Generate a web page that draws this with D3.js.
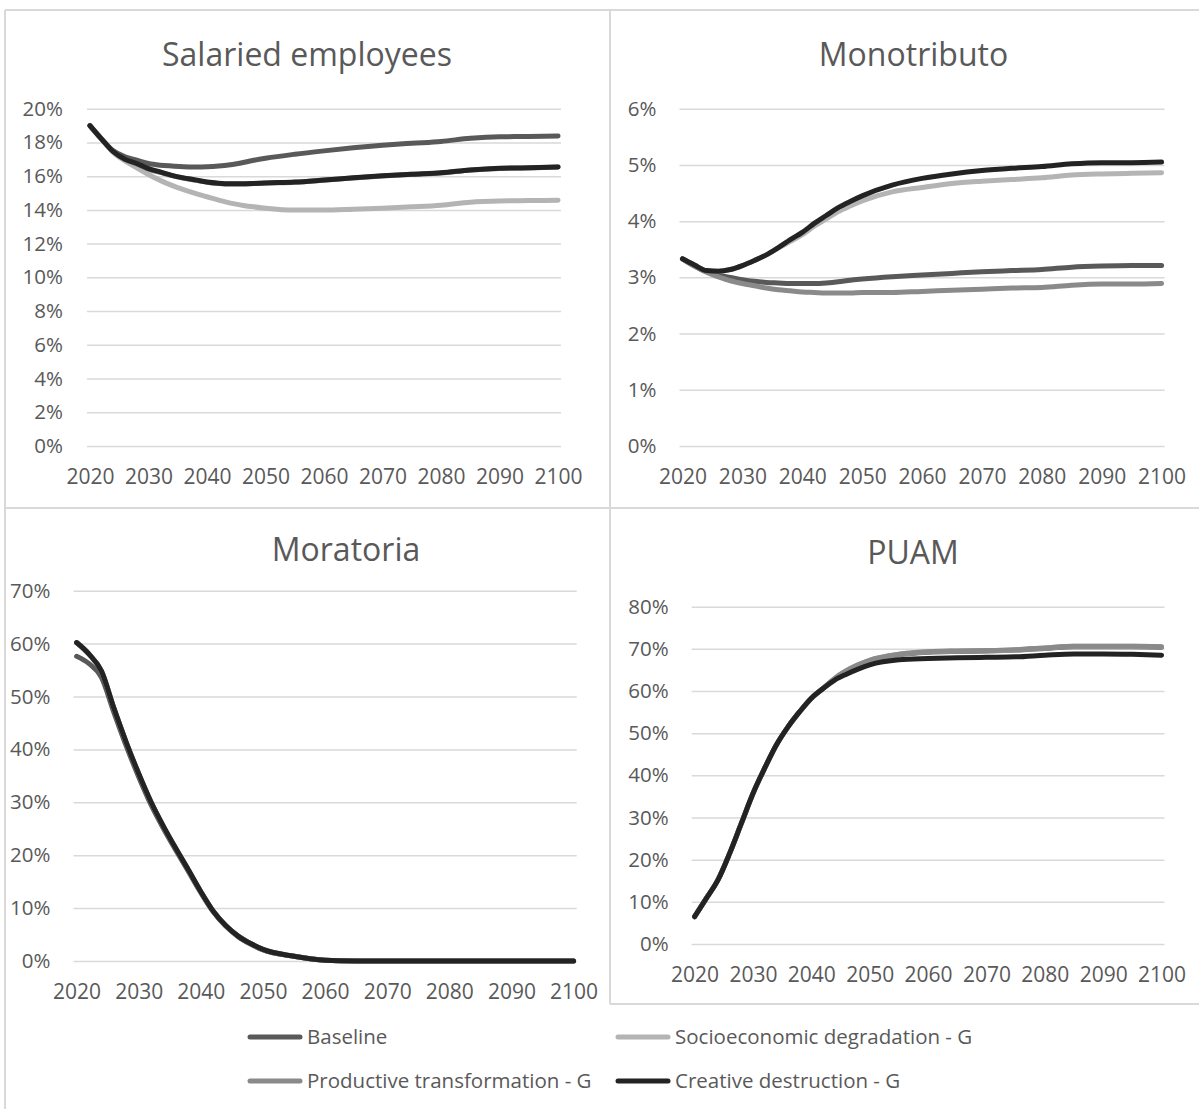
<!DOCTYPE html>
<html>

<head>
    <meta charset="UTF-8">
    <title>scenarios</title>
    <style>
        body { margin: 0; background: #fff; }
        text { font-family: "Open Sans", sans-serif; fill: #595959; }
    </style>
</head>

<body>
    <script src="https://cdn.jsdelivr.net/npm/d3@7/dist/d3.min.js"></script>

    <svg id="svg" width="1199" height="1109"></svg>

    <script>
        // years shared by every series
        const years = [2020, 2022, 2024, 2026, 2028, 2030, 2032, 2034, 2036, 2038, 2040, 2042, 2044, 2046, 2048, 2050,
            2055, 2060, 2065, 2070, 2075, 2080, 2085, 2090, 2095, 2100];
        const xTicks = [2020, 2030, 2040, 2050, 2060, 2070, 2080, 2090, 2100];

        const seriesNames = ["Baseline", "Socioeconomic degradation - G", "Productive transformation - G", "Creative destruction - G"];
        const seriesColors = ["#595959", "#b4b4b4", "#8a8a8a", "#232323"];

        // Salaried employees (%)
        const salBaseline = [19.0, 18.2, 17.5, 17.15, 16.95, 16.75, 16.65, 16.6, 16.56, 16.55, 16.56, 16.6, 16.68, 16.8, 16.94, 17.06,
            17.3, 17.5, 17.68, 17.83, 17.95, 18.06, 18.25, 18.34, 18.35, 18.38];
        const salSocio = [19.0, 18.2, 17.4, 16.9, 16.5, 16.1, 15.75, 15.45, 15.2, 14.98, 14.78, 14.58, 14.4, 14.28, 14.18, 14.1,
            13.99, 13.99, 14.04, 14.1, 14.18, 14.28, 14.46, 14.53, 14.55, 14.57];
        const salProductive = [19.0, 18.2, 17.45, 17.0, 16.72, 16.42, 16.22, 16.03, 15.88, 15.76, 15.64, 15.57, 15.54, 15.54, 15.56, 15.59,
            15.64, 15.76, 15.89, 16.01, 16.11, 16.19, 16.36, 16.46, 16.49, 16.54];
        const salCreative = [19.0, 18.2, 17.45, 17.0, 16.75, 16.45, 16.25, 16.05, 15.9, 15.78, 15.65, 15.58, 15.55, 15.55, 15.57, 15.6,
            15.65, 15.77, 15.9, 16.02, 16.12, 16.2, 16.37, 16.47, 16.5, 16.55];

        // Monotributo (%)
        const monoBaseline = [3.33, 3.2, 3.1, 3.04, 3.0, 2.96, 2.93, 2.91, 2.9, 2.89, 2.89, 2.89, 2.9, 2.92, 2.95, 2.97,
            3.01, 3.04, 3.07, 3.1, 3.12, 3.14, 3.18, 3.2, 3.21, 3.21];
        const monoSocio = [3.33, 3.22, 3.12, 3.11, 3.14, 3.21, 3.3, 3.4, 3.52, 3.64, 3.76, 3.91, 4.04, 4.17, 4.27, 4.36,
            4.52, 4.6, 4.67, 4.71, 4.74, 4.77, 4.82, 4.84, 4.85, 4.86];
        const monoProductive = [3.33, 3.2, 3.09, 3.01, 2.94, 2.89, 2.85, 2.81, 2.78, 2.76, 2.74, 2.73, 2.72, 2.72, 2.72, 2.73,
            2.73, 2.75, 2.77, 2.79, 2.81, 2.82, 2.86, 2.88, 2.88, 2.89];
        const monoCreative = [3.33, 3.22, 3.12, 3.11, 3.14, 3.21, 3.3, 3.4, 3.53, 3.67, 3.8, 3.96, 4.1, 4.24, 4.35, 4.45,
            4.64, 4.76, 4.84, 4.9, 4.94, 4.97, 5.02, 5.04, 5.04, 5.05];

        // Moratoria (%)
        const morBaseline = [57.6, 56.2, 53.6, 47.0, 40.6, 34.8, 29.5, 25.0, 20.9, 16.9, 12.9, 9.3, 6.6, 4.6, 3.2, 2.1,
            0.9, 0.15, 0.02, 0, 0, 0, 0, 0, 0, 0];
        const morSocio = [60.2, 58.0, 54.8, 47.8, 41.3, 35.4, 30.0, 25.4, 21.2, 17.2, 13.1, 9.4, 6.7, 4.7, 3.3, 2.2,
            0.9, 0.15, 0.02, 0, 0, 0, 0, 0, 0, 0];
        const morProductive = [60.2, 58.0, 54.8, 47.8, 41.3, 35.4, 30.0, 25.4, 21.2, 17.2, 13.1, 9.4, 6.7, 4.7, 3.3, 2.2,
            0.9, 0.15, 0.02, 0, 0, 0, 0, 0, 0, 0];
        const morCreative = [60.2, 58.0, 54.8, 47.8, 41.3, 35.4, 30.0, 25.4, 21.2, 17.2, 13.1, 9.4, 6.7, 4.7, 3.3, 2.2,
            0.9, 0.15, 0.02, 0, 0, 0, 0, 0, 0, 0];

        // PUAM (%)
        const puamBaseline = [6.5, 10.8, 15.2, 21.5, 28.6, 35.7, 41.7, 47.2, 51.5, 55.1, 58.3, 60.6, 62.9, 64.7, 66.1, 67.2,
            68.6, 69.2, 69.4, 69.5, 69.7, 70.1, 70.5, 70.5, 70.5, 70.4];
        const puamSocio = [6.5, 10.8, 15.2, 21.5, 28.6, 35.7, 41.7, 47.2, 51.5, 55.1, 58.3, 60.6, 63.0, 64.8, 66.2, 67.3,
            68.7, 69.3, 69.5, 69.6, 69.8, 70.2, 70.6, 70.6, 70.6, 70.5];
        const puamProductive = [6.5, 10.8, 15.2, 21.5, 28.6, 35.7, 41.7, 47.2, 51.5, 55.1, 58.3, 60.6, 63.0, 64.8, 66.2, 67.3,
            68.7, 69.3, 69.5, 69.6, 69.8, 70.2, 70.6, 70.6, 70.6, 70.5];
        const puamCreative = [6.5, 10.8, 15.2, 21.5, 28.6, 35.7, 41.7, 47.2, 51.5, 55.1, 58.3, 60.6, 62.6, 64.0, 65.2, 66.2,
            67.4, 67.7, 67.9, 68.0, 68.1, 68.5, 68.8, 68.8, 68.7, 68.5];

        const svg = d3.select("#svg");
        svg.append("rect").attr("width", 1199).attr("height", 1109).attr("fill", "#fff");

        // frame lines between the panels
        const frame = [
            [5, 10, 1199, 10], [5, 10, 5, 1109], [610, 10, 610, 1004],
            [5, 508, 1199, 508], [610, 1004, 1199, 1004]
        ];
        svg.append("g").selectAll("line").data(frame).enter().append("line")
            .attr("x1", d => d[0]).attr("y1", d => d[1]).attr("x2", d => d[2]).attr("y2", d => d[3])
            .attr("stroke", "#d9d9d9").attr("stroke-width", 2);

        const panels = [
            { title: "Salaried employees", tx: 307, ty: 55, x0: 87, x1: 561, y0: 446, y1: 108.7, max: 0.20, step: 0.02, labX: 63, labY: 477,
              series: [salBaseline, salSocio, salProductive, salCreative] },
            { title: "Monotributo", tx: 913.5, ty: 55, x0: 679.5, x1: 1164.6, y0: 446, y1: 108.7, max: 0.06, step: 0.01, labX: 656.5, labY: 477,
              series: [monoBaseline, monoSocio, monoProductive, monoCreative] },
            { title: "Moratoria", tx: 346, ty: 550, x0: 73.5, x1: 576.7, y0: 961, y1: 590.7, max: 0.70, step: 0.10, labX: 50.5, labY: 992,
              series: [morBaseline, morSocio, morProductive, morCreative] },
            { title: "PUAM", tx: 913, ty: 553, x0: 691.7, x1: 1164.5, y0: 944, y1: 606.7, max: 0.80, step: 0.10, labX: 668.7, labY: 975,
              series: [puamBaseline, puamSocio, puamProductive, puamCreative] }
        ];

        panels.forEach(p => {
            const g = svg.append("g");
            const x = d3.scaleLinear().domain([2019.5, 2100.5]).range([p.x0, p.x1]);
            const y = d3.scaleLinear().domain([0, p.max]).range([p.y0, p.y1]);
            const yTicks = d3.range(0, p.max + p.step / 2, p.step);

            g.append("text").attr("x", p.tx).attr("y", p.ty).attr("dy", "0.35em")
                .attr("text-anchor", "middle").style("font-size", "32px").text(p.title);

            const yAxis = g.append("g").attr("transform", `translate(${p.x0},0)`)
                .call(d3.axisLeft(y).tickValues(yTicks).tickSize(-(p.x1 - p.x0))
                    .tickPadding(p.x0 - p.labX).tickFormat(d3.format(".0%")));
            yAxis.select(".domain").remove();
            yAxis.selectAll("line").attr("stroke", "#d9d9d9").attr("stroke-width", 1.5);
            yAxis.selectAll("text").style("font-size", "20.5px").attr("fill", "#595959")
                .style("font-family", "'Open Sans', sans-serif");

            const xAxis = g.append("g").attr("transform", `translate(0,${p.labY})`)
                .call(d3.axisBottom(x).tickValues(xTicks).tickSize(0).tickFormat(d3.format("d")));
            xAxis.select(".domain").remove();
            xAxis.selectAll("text").attr("y", 0).attr("dy", "0.35em").style("font-size", "21px")
                .attr("fill", "#595959").style("font-family", "'Open Sans', sans-serif");

            const line = d3.line().x((d, i) => x(years[i])).y(d => y(d / 100)).curve(d3.curveMonotoneX);
            g.append("g").selectAll("path").data(p.series).enter().append("path")
                .attr("d", d => line(d))
                .attr("fill", "none")
                .attr("stroke", (d, i) => seriesColors[i])
                .attr("stroke-width", 5)
                .attr("stroke-linecap", "round")
                .attr("stroke-linejoin", "round");
        });

        // legend, two rows of two
        const legendPos = [[250, 1037], [618, 1037], [250, 1081], [618, 1081]];
        const legend = svg.append("g").selectAll("g").data(seriesNames).enter().append("g")
            .attr("transform", (d, i) => `translate(${legendPos[i][0]},${legendPos[i][1]})`);
        legend.append("line").attr("x1", 0).attr("x2", 50).attr("y1", 0).attr("y2", 0)
            .attr("stroke", (d, i) => seriesColors[i]).attr("stroke-width", 5).attr("stroke-linecap", "round");
        legend.append("text").attr("x", 57).attr("dy", "0.35em").style("font-size", "20.5px").text(d => d);
    </script>

</body>

</html>
